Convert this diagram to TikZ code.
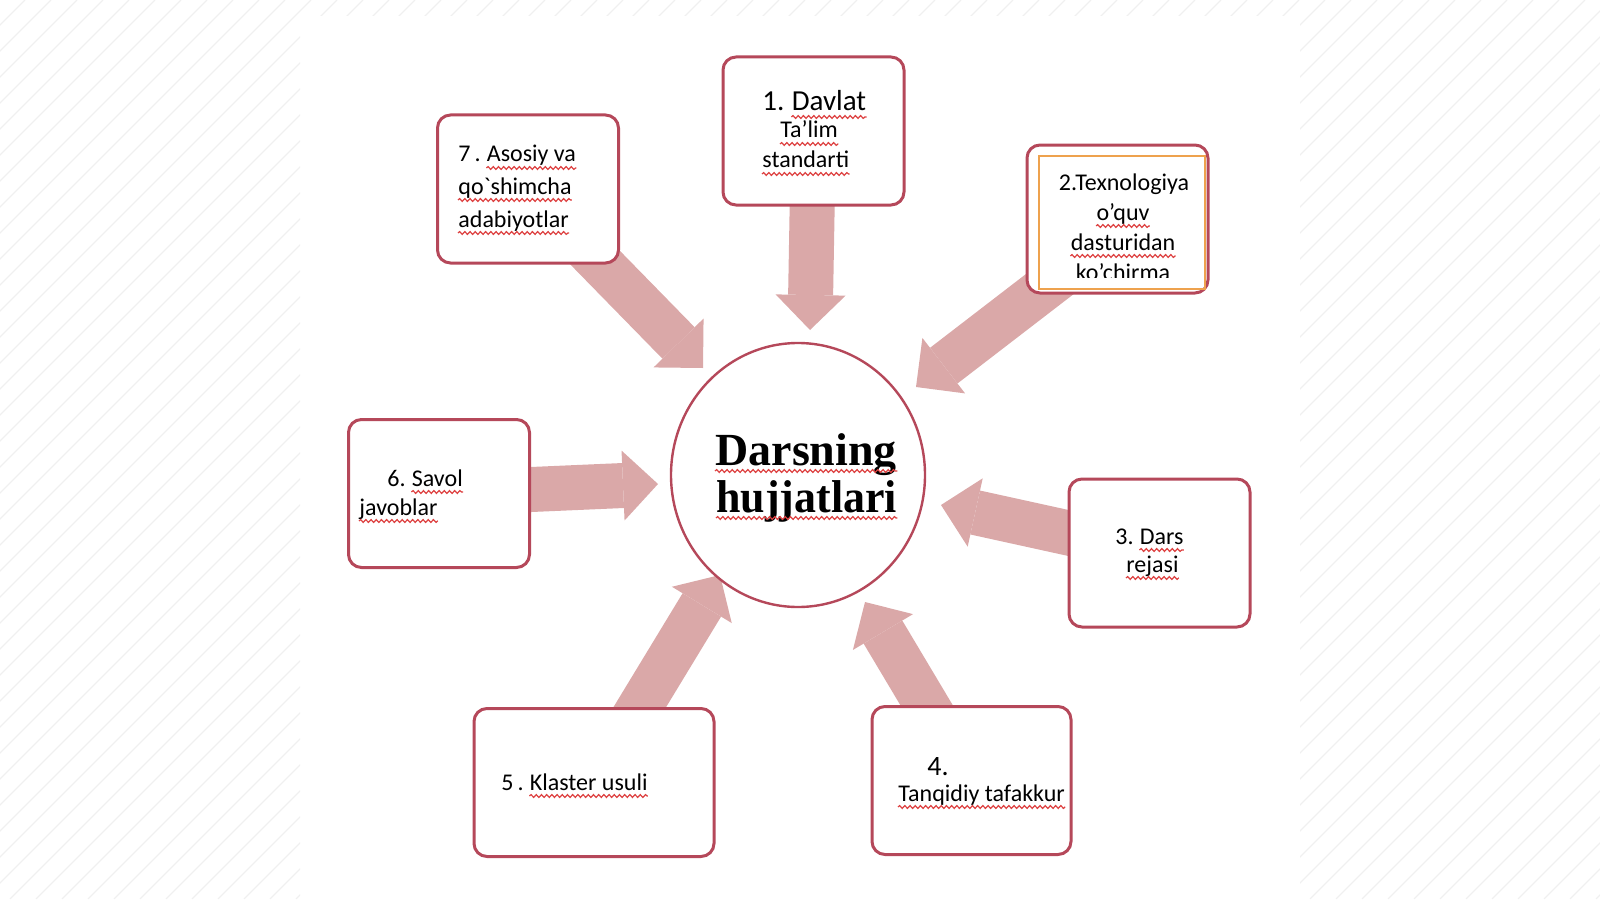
\documentclass[tikz,border=0pt]{standalone}
\usepackage{fontspec}
\usepackage{graphicx}
\setmainfont{Carlito}
\newfontfamily\titlefont{Liberation Serif}
\usetikzlibrary{arrows.meta,shapes.geometric,decorations.pathmorphing}

\definecolor{boxred}{HTML}{B5485A}
\definecolor{arrowpink}{HTML}{DAA8A8}
\definecolor{frameorange}{HTML}{EEA24E}
\definecolor{spellred}{HTML}{DD4040}
\definecolor{stripegray}{HTML}{F0F0F0}

\pgfdeclarelayer{back}
\pgfdeclarelayer{arrowlayer}
\pgfsetlayers{back,arrowlayer,main}

\begin{document}
\begin{tikzpicture}[x=0.5pt,y=-0.5pt,
	doc/.style={draw=boxred,line width=1.5pt,rounded corners=6.5pt,fill=white,
		minimum width=90.5pt,minimum height=74pt,inner sep=0pt},
	txt/.style={inner sep=0pt,anchor=base west,font=\fontsize{12}{14}\selectfont},
	big/.style={txt,font=\fontsize{14.5}{16}\selectfont},
	title/.style={inner sep=0pt,anchor=base west,font=\titlefont\bfseries\fontsize{23}{24}\selectfont},
	wave/.style={spellred,line width=0.6pt,decorate,
		decoration={snake,amplitude=0.7pt,segment length=2.6pt}},
	blk/.style={draw=arrowpink,line width=22.5pt,
		-{Triangle[width=35pt,length=17.5pt,line width=0pt]}}]
	\useasboundingbox (0,0) rectangle (1600,899);

	% faint stripes left and right
	\begin{pgfonlayer}{back}
	\begin{scope}
		\clip (0,0) rectangle (300,899) (1300,0) rectangle (1600,899) (300,0) rectangle (1300,16);
		\foreach \k in {-900,-874,...,1600}
			\draw[stripegray,line width=0.6pt] (\k,899) -- ++(899,-899);
	\end{scope}
	\end{pgfonlayer}

	% centre
	\node[ellipse,draw=boxred,line width=1.2pt,fill=white,
		minimum width=127pt,minimum height=132pt,inner sep=0pt] (circ) at (798,475) {};
	\node[title] (ca) at (715,465) {Darsning};
	\node[title] (cb) at (716,512) {\scalebox{0.955}[1]{hujjatlari}};

	% 1
	\node[doc] (b1) at (813.5,131) {};
	\node[big] (t1a) at (762,111) {1.\ \null};
	\node[big] (w1a) at (t1a.base east) {Davlat};
	\node[txt] (t1b) at (780,138) {Ta’lim};
	\node[txt] (t1c) at (762,168) {standarti};

	% 2
	\node[doc] (b2) at (1117.5,219) {};
	\draw[frameorange,line width=0.8pt] (1039,156) rectangle (1205,289);
	\begin{scope}
		\clip (1041,158) rectangle (1203,277);
		\node[txt,anchor=base] (t2a) at (1124,190) {2.Texnologiya};
		\node[txt,anchor=base] (t2b) at (1123,220) {o’quv};
		\node[txt,anchor=base] (t2c) at (1123,250) {dasturidan};
		\node[txt,anchor=base] (t2d) at (1123,280) {ko’chirma};
	\end{scope}

	% 3
	\node[doc] (b3) at (1159.5,553) {};
	\node[txt] (t3a) at (1115,544) {3.\ \null};
	\node[txt] (w3a) at (t3a.base east) {Dars};
	\node[txt] (t3b) at (1126,572) {rejasi};

	% 4
	\node[doc,minimum width=99.5pt] (b4) at (971.5,780.5) {};
	\node[big,font=\fontsize{14}{16}\selectfont] (t4a) at (927,775) {4.};
	\node[txt] (t4b) at (898,801) {Tanqidiy tafakkur};

	% 5
	\node[doc,minimum width=120pt] (b5) at (594,782.5) {};
	\node[txt] (t5) at (501,790) {5\,.\ \null};
	\node[txt] (w5) at (t5.base east) {Klaster usuli};

	% 6
	\node[doc] (b6) at (439,493.5) {};
	\node[txt] (t6a) at (387,486) {6.\ \null};
	\node[txt] (w6a) at (t6a.base east) {Savol};
	\node[txt] (t6b) at (359,515) {javoblar};

	% 7
	\node[doc] (b7) at (528,189) {};
	\node[txt] (t7a) at (458,162) {7\,.\ \null};
	\node[txt] (w7a) at (t7a.base east) {Asosiy va};
	\node[txt] (t7b) at (458,194) {qo\textasciigrave shimcha};
	\node[txt] (t7c) at (458,227) {adabiyotlar};

	% spell-check waves
	\foreach \w in {ca,cb,w1a,t1b,t1c,t2b,t2c,w3a,t3b,t4b,w5,w6a,t6b,w7a,t7b,t7c}
		\draw[wave] ([yshift=-3pt]\w.base west) -- ([yshift=-3pt]\w.base east);

	% arrow tips, just off the circle
	\coordinate (tip1) at (810,330);
	\coordinate (tip2) at (916,387);
	\coordinate (tip3) at (941,505);
	\coordinate (tip4) at (865,602);
	\coordinate (tip5) at (720,575);
	\coordinate (tip6) at (658,484);
	\coordinate (tip7) at (703,368);
	\begin{pgfonlayer}{arrowlayer}
		\draw[blk] (b1.center) -- (tip1);
		\draw[blk] ([yshift=-6.5pt]b2.center) -- (tip2);
		\draw[blk] (b3.center) -- (tip3);
		\draw[blk] (b4.center) -- (tip4);
		\draw[blk] (b5.center) -- (tip5);
		\draw[blk] (b6.center) -- (tip6);
		\draw[blk] (b7.center) -- (tip7);
	\end{pgfonlayer}
\end{tikzpicture}
\end{document}
